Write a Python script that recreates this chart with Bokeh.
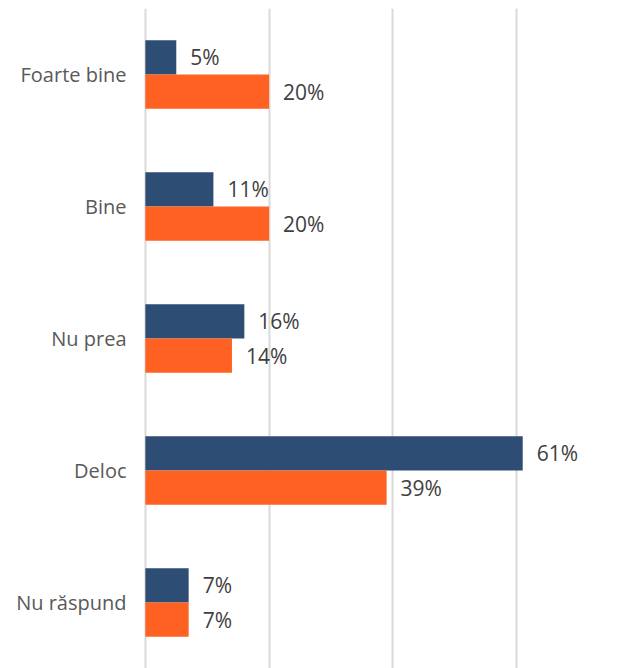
from bokeh.plotting import figure
from bokeh.models import ColumnDataSource, Range1d, LabelSet, FactorRange
from bokeh.transform import dodge
from bokeh.core.properties import value
from bokeh.embed import file_html
from bokeh.resources import INLINE

categories = ["Foarte bine", "Bine", "Nu prea", "Deloc", "Nu răspund"]
series_a = [5, 11, 16, 61, 7]
series_b = [20, 20, 14, 39, 7]

BLUE = "#2D4D74"
ORANGE = "#FF6123"

src = ColumnDataSource(dict(
    cat=categories,
    a=series_a,
    b=series_b,
    a_lbl=[f"{v}%" for v in series_a],
    b_lbl=[f"{v}%" for v in series_b],
))

p = figure(
    width=617, height=668,
    y_range=FactorRange(*list(reversed(categories))),
    x_range=Range1d(-0.3, 76),
    output_backend="svg", toolbar_location=None,
    min_border_left=143, min_border_right=2, min_border_top=8, min_border_bottom=0,
)
p.outline_line_color = None

p.xaxis.visible = False
p.xgrid.ticker = [0, 20, 40, 60]
p.xgrid.grid_line_color = "#D9D9D9"
p.xgrid.grid_line_width = 2
p.ygrid.grid_line_color = None

p.hbar(y=dodge("cat", 0.13, range=p.y_range), right="a", left=0, height=0.26,
       source=src, fill_color=BLUE, line_color=None)
p.hbar(y=dodge("cat", -0.13, range=p.y_range), right="b", left=0, height=0.26,
       source=src, fill_color=ORANGE, line_color=None)

for col, lbl, off in (("a", "a_lbl", 0.13), ("b", "b_lbl", -0.13)):
    labels = LabelSet(x=col, y=dodge("cat", off, range=p.y_range), text=lbl,
                      source=src, x_offset=14, y_offset=0,
                      text_align="left", text_baseline="middle",
                      text_font=value("Open Sans"), text_font_size="21px",
                      text_color="#404040")
    p.add_layout(labels)

p.yaxis.axis_line_color = None
p.yaxis.major_tick_line_color = None
p.yaxis.minor_tick_line_color = None
p.yaxis.major_label_standoff = 11
p.yaxis.major_label_text_font = "Open Sans"
p.yaxis.major_label_text_font_size = "20px"
p.yaxis.major_label_text_color = "#595959"

open("out.html", "w").write(file_html(p, INLINE))
